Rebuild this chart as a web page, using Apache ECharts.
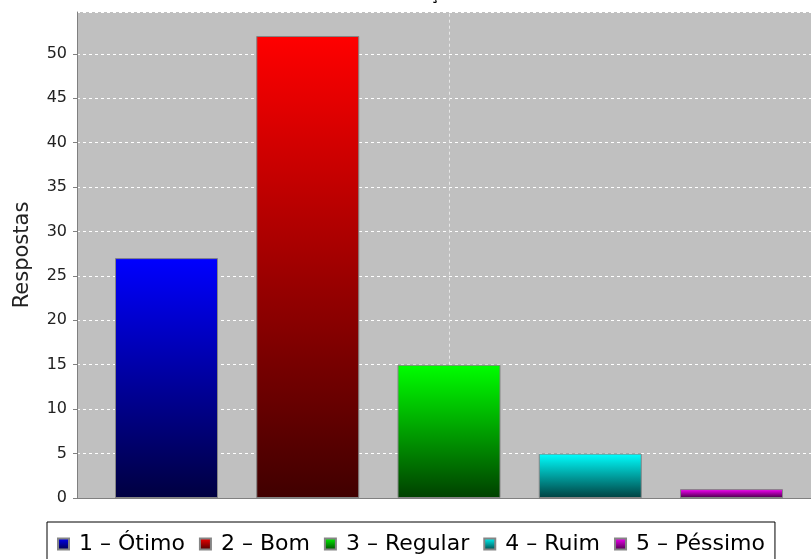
<!DOCTYPE html>
<html>
<head>
<meta charset="utf-8">
<script src="https://cdn.jsdelivr.net/npm/echarts@6/dist/echarts.min.js"></script>
<style>html,body{margin:0;padding:0;background:#fff;}#c{width:811px;height:559px;}</style>
</head>
<body>
<div id="c"></div>
<script>
var title = 'Avaliação';
var categories = ['1 – Ótimo', '2 – Bom', '3 – Regular', '4 – Ruim', '5 – Péssimo'];
var values = [27, 52, 15, 5, 1];
var topColors = ['#0000ff', '#ff0000', '#00ff00', '#00ffff', '#ff00ff'];
var bottomColors = ['#000040', '#400000', '#004000', '#004040', '#400040'];
var yMax = 54.7;

var chart = echarts.init(document.getElementById('c'));
var series = categories.map(function (name, i) {
  var s = {
    name: name,
    type: 'bar',
    barWidth: 103,
    barGap: '-100%',
    data: [[i + 1, values[i]]],
    itemStyle: {
      color: new echarts.graphic.LinearGradient(0, 0, 0, 1, [
        { offset: 0, color: topColors[i] },
        { offset: 1, color: bottomColors[i] }
      ]),
      borderColor: '#858585',
      borderWidth: 1
    }
  };
  if (i === 2) {
    s.markLine = {
      silent: true,
      symbol: 'none',
      label: { show: false },
      lineStyle: { color: '#e8e8e8', type: [3, 3], width: 1 },
      data: [[{ coord: [i + 1, values[i]] }, { coord: [i + 1, yMax] }]]
    };
  }
  return s;
});

chart.setOption({
  animation: false,
  backgroundColor: '#ffffff',
  title: {
    text: title,
    left: 370,
    top: -17,
    textStyle: { fontFamily: 'DejaVu Sans', fontSize: 16, fontWeight: 'bold', color: '#000' }
  },
  legend: {
    data: categories,
    left: 47,
    top: 522,
    orient: 'horizontal',
    icon: 'rect',
    itemWidth: 11,
    itemHeight: 11,
    itemGap: 14,
    padding: [11, 10, 12, 10],
    borderColor: '#000',
    borderWidth: 1,
    textStyle: { fontFamily: 'DejaVu Sans', fontSize: 22, color: '#000', padding: [0, 0, 0, 5] }
  },
  grid: {
    left: 77, top: 12, right: 0, height: 486,
    show: true, backgroundColor: '#c0c0c0', borderWidth: 0
  },
  xAxis: {
    type: 'value',
    min: 0.36637,
    max: 5.56283,
    axisLabel: { show: false },
    axisTick: { show: false },
    splitLine: { show: false },
    axisLine: { show: true, lineStyle: { color: '#808080', width: 1 } }
  },
  yAxis: {
    type: 'value',
    min: 0,
    max: yMax,
    interval: 5,
    name: 'Respostas',
    nameLocation: 'middle',
    nameGap: 44,
    nameTextStyle: { fontFamily: 'DejaVu Sans', fontSize: 21, color: '#222' },
    axisLine: { show: true, lineStyle: { color: '#808080' } },
    axisTick: { show: true, length: 4, lineStyle: { color: '#808080' } },
    axisLabel: { showMaxLabel: false, fontFamily: 'DejaVu Sans', fontSize: 16, color: '#222', margin: 10 },
    splitLine: { show: true, lineStyle: { color: '#ffffff', type: [3, 3], width: 1 } }
  },
  series: series
});
</script>
</body>
</html>
